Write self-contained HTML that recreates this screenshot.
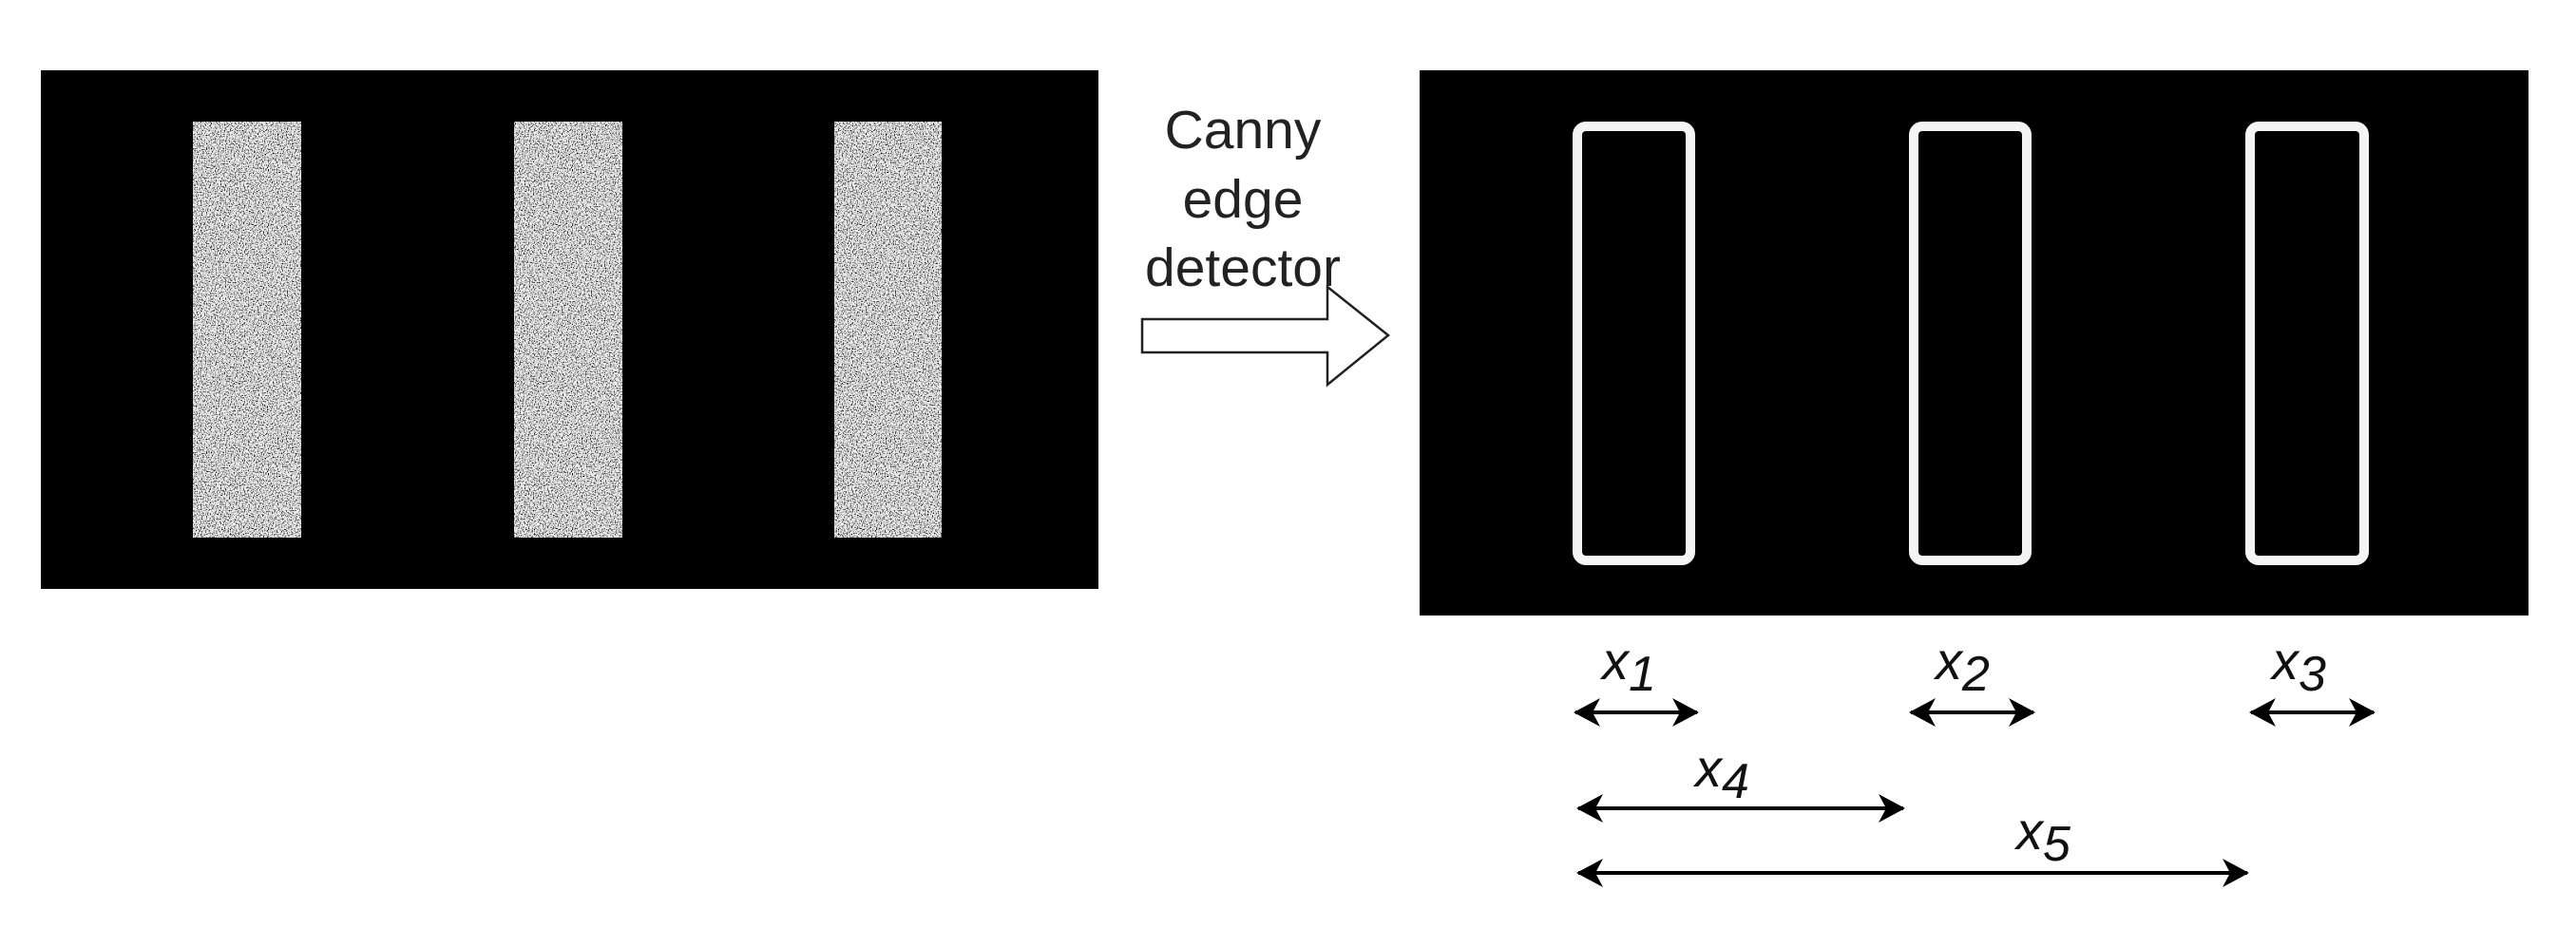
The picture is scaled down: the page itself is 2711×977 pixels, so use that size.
<!DOCTYPE html>
<html><head><meta charset="utf-8"><style>
html,body{margin:0;padding:0;background:#fff;}
svg{display:block}
text{font-family:"Liberation Sans",sans-serif;}
</style></head><body>
<svg width="2711" height="977" viewBox="0 0 2711 977" xmlns="http://www.w3.org/2000/svg">
<defs>
<filter id="noise" x="0" y="0" width="100%" height="100%">
<feTurbulence type="fractalNoise" baseFrequency="0.8" numOctaves="2" seed="3"/>
<feColorMatrix type="matrix" values="0 0 0 0 0  0 0 0 0 0  0 0 0 0 0  6 0 0 0 -3.2"/>
<feComposite in2="SourceGraphic" operator="in"/>
</filter>
<marker id="ah" viewBox="0 0 30 30" refX="26" refY="15" markerWidth="30" markerHeight="30" markerUnits="userSpaceOnUse" orient="auto-start-reverse">
<path d="M0,0 L28,15 L0,30 L8,15 Z" fill="#000"/>
</marker>
</defs>
<rect x="43" y="74" width="1113" height="546" fill="#000"/>
<g>
<rect x="203" y="128" width="114" height="438" fill="#ececec"/>
<rect x="541" y="128" width="114" height="438" fill="#ececec"/>
<rect x="878" y="128" width="113" height="438" fill="#ececec"/>
<rect x="203" y="128" width="114" height="438" fill="#222" filter="url(#noise)"/>
<rect x="541" y="128" width="114" height="438" fill="#222" filter="url(#noise)"/>
<rect x="878" y="128" width="113" height="438" fill="#222" filter="url(#noise)"/>
</g>
<g font-size="57" fill="#222" text-anchor="middle">
<text x="1308" y="156">Canny</text>
<text x="1308" y="229">edge</text>
<text x="1308" y="301">detector</text>
</g>
<path d="M1202,336 L1397,336 L1397,302 L1461,353 L1397,405 L1397,371 L1202,371 Z" fill="#fff" stroke="#222" stroke-width="2.5"/>
<rect x="1494" y="74" width="1167" height="574" fill="#000"/>
<g fill="none" stroke="#f4f4f4" stroke-width="10">
<rect x="1660" y="133" width="119" height="457" rx="9"/>
<rect x="2014" y="133" width="119" height="457" rx="9"/>
<rect x="2368" y="133" width="120" height="457" rx="9"/>
</g>
<g stroke="#000" stroke-width="4" marker-start="url(#ah)" marker-end="url(#ah)">
<line x1="1658" y1="750" x2="1786" y2="750"/>
<line x1="2011" y1="750" x2="2140" y2="750"/>
<line x1="2369" y1="750" x2="2498" y2="750"/>
<line x1="1661" y1="851" x2="2003" y2="851"/>
<line x1="1661" y1="919" x2="2365" y2="919"/>
</g>
<g font-size="56" font-style="italic" fill="#111">
<text x="1686" y="715">x<tspan font-size="52" dy="12">1</tspan></text>
<text x="2037" y="715">x<tspan font-size="52" dy="12">2</tspan></text>
<text x="2391" y="715">x<tspan font-size="52" dy="12">3</tspan></text>
<text x="1784" y="828">x<tspan font-size="52" dy="12">4</tspan></text>
<text x="2122" y="894">x<tspan font-size="52" dy="12">5</tspan></text>
</g>
</svg>
</body></html>
